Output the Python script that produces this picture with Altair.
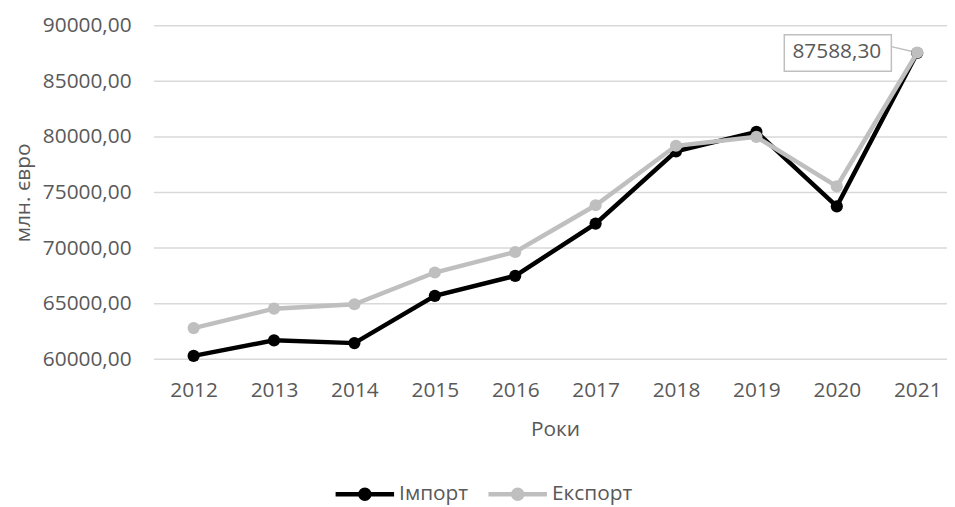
import altair as alt
import pandas as pd

years = ["2012", "2013", "2014", "2015", "2016", "2017", "2018", "2019", "2020", "2021"]
import_vals = [60300, 61700, 61450, 65700, 67500, 72200, 78700, 80450, 73750, 87550]
export_vals = [62800, 64550, 64950, 67800, 69650, 73850, 79200, 80000, 75550, 87588.30]
series_names = ["Імпорт", "Експорт"]
series_colors = ["#000000", "#BFBFBF"]
y_ticks = [60000, 65000, 70000, 75000, 80000, 85000, 90000]
label_text = "87588,30"

rows = []
for name, vals in zip(series_names, [import_vals, export_vals]):
    for yr, v in zip(years, vals):
        rows.append({"year": yr, "value": v, "series": name})
df = pd.DataFrame(rows)
grid_df = pd.DataFrame({"value": y_ticks})

FONT = "Open Sans"
TXT = "#595959"

legend_path = "M-3,0L3,0M0.46,0A0.46,0.46,0,1,1,-0.46,0A0.46,0.46,0,1,1,0.46,0Z"
box_path = "M-3.6,-0.48L-0.70,-0.48L-0.70,0.51L-3.6,0.51ZM-0.70,-0.16L-0.02,0"

x_enc = alt.X("year:O", sort=years,
              scale=alt.Scale(type="point", range=[40, 769], padding=0),
              axis=alt.Axis(title="Роки", labelAngle=0, labelPadding=21, tickSize=0,
                            ticks=False, domain=False, grid=False,
                            titleY=77, titleBaseline="alphabetic", titleX=404))
y_scale = alt.Scale(domain=[60000, 90000], nice=False, zero=False)
y_enc = alt.Y("value:Q", scale=y_scale,
              axis=alt.Axis(title="млн. євро", values=y_ticks,
                            labelExpr="replace(format(datum.value, '.2f'), '.', ',')",
                            labelPadding=23, ticks=False, domain=False, grid=False,
                            titleX=-121, titleBaseline="bottom"))

color_scale = alt.Scale(domain=series_names, range=series_colors)
legend = alt.Legend(title=None, orient="none", legendX=200, legendY=459,
                    direction="horizontal", symbolType=legend_path, symbolSize=386,
                    symbolStrokeWidth=4.5, labelOffset=22, columnPadding=11,
                    labelFontSize=21, labelFont=FONT, labelColor=TXT, padding=0)

grid = alt.Chart(grid_df).mark_rule(color="#D9D9D9", strokeWidth=1.5).encode(
    y=y_enc, x=alt.value(0), x2=alt.value(799))

base = alt.Chart(df)

def series_layers(name):
    d = base.transform_filter(alt.datum.series == name)
    line = d.mark_line(strokeWidth=4.5).encode(
        x=x_enc, y=y_enc,
        color=alt.Color("series:N", scale=color_scale, legend=legend))
    pts = d.mark_point(filled=True, size=150, opacity=1).encode(
        x=x_enc, y=y_enc,
        fill=alt.Fill("series:N", scale=color_scale, legend=legend))
    return [line, pts]

last = base.transform_filter(
    (alt.datum.series == "Експорт") & (alt.datum.year == "2021"))
box = last.mark_point(shape=box_path, size=5535, filled=False, fill="white",
                      stroke="#BFBFBF", strokeWidth=1.5, opacity=1).encode(x=x_enc, y=y_enc)
txt = last.mark_text(font=FONT, fontSize=21, color=TXT, dx=-81, dy=0,
                     baseline="middle", align="center").encode(
    x=x_enc, y=y_enc, text=alt.value(label_text))

chart = alt.layer(grid, box, *series_layers("Імпорт"), *series_layers("Експорт"), txt).properties(
    width=799, height=336,
    background="white",
    autosize=alt.AutoSizeParams(type="none"),
    padding={"left": 147, "top": 16, "right": 0, "bottom": 145},
).configure_view(stroke=None).configure_axis(
    labelFont=FONT, labelFontSize=21, labelColor=TXT,
    titleFont=FONT, titleFontSize=21, titleColor=TXT, titleFontWeight="normal",
)

chart.save("out.html", embed_options={"renderer": "svg", "actions": False})
